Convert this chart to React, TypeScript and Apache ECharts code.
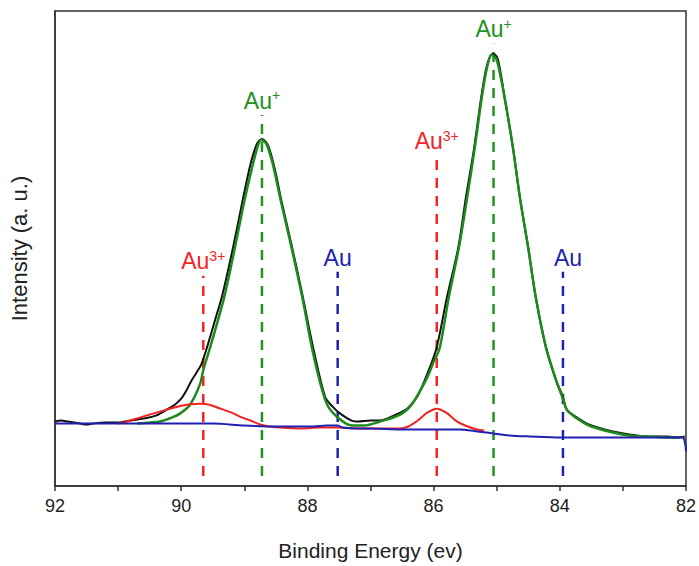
import React, { useEffect, useRef } from "react";
import * as echarts from "echarts";

// Binding energy (eV) / intensity (a.u.) pairs
const rawData: number[][] = [
  [92.0, 65], [91.9, 66], [91.8, 65], [91.6, 63], [91.5, 62], [91.4, 63], [91.2, 64], [91.0, 64],
  [90.8, 66], [90.6, 68], [90.4, 71], [90.23, 77], [90.1, 82], [90.0, 88], [89.92, 96], [89.84, 106],
  [89.76, 114], [89.68, 123], [89.59, 140], [89.46, 168], [89.35, 192], [89.18, 240], [89.02, 290],
  [88.9, 325], [88.8, 345], [88.72, 350], [88.62, 343], [88.5, 315], [88.42, 290], [88.24, 240],
  [88.07, 190], [87.91, 140], [87.72, 90], [87.6, 80], [87.48, 73], [87.3, 66], [87.2, 65], [87.0, 66],
  [86.85, 66], [86.6, 72], [86.42, 78], [86.26, 90], [86.1, 113], [85.95, 140], [85.79, 190],
  [85.61, 240], [85.49, 290], [85.36, 340], [85.25, 390], [85.17, 420], [85.1, 434], [85.05, 436],
  [84.98, 430], [84.87, 390], [84.74, 340], [84.63, 290], [84.5, 240], [84.38, 190], [84.22, 140],
  [84.05, 105], [83.95, 90], [83.89, 77], [83.75, 70], [83.57, 63], [83.4, 59], [83.16, 55],
  [82.9, 52], [82.62, 50], [82.3, 50], [82.1, 49], [82.02, 50],
];

const auPlusFit: number[][] = [
  [90.7, 63], [90.5, 64], [90.34, 65], [90.15, 69], [90.02, 73], [89.86, 82], [89.7, 103], [89.65, 117],
  [89.54, 140], [89.32, 190], [89.15, 240], [88.99, 290], [88.8, 340], [88.73, 349], [88.65, 345],
  [88.55, 325], [88.43, 290], [88.25, 240], [88.08, 190], [87.93, 140], [87.78, 100], [87.67, 80],
  [87.48, 67], [87.3, 61], [87.1, 61], [86.85, 65], [86.53, 72], [86.35, 82], [86.12, 107], [86.0, 125],
  [85.9, 140], [85.76, 190], [85.6, 240], [85.47, 290], [85.35, 340], [85.24, 390], [85.16, 420],
  [85.08, 435], [85.0, 430], [84.87, 390], [84.74, 340], [84.63, 290], [84.5, 240], [84.38, 190],
  [84.22, 140], [84.05, 105], [83.95, 88], [83.89, 77], [83.75, 69], [83.57, 62], [83.4, 58],
  [83.16, 54], [82.9, 51], [82.62, 50], [82.3, 49], [82.1, 49],
];

const au3PlusFit: number[][] = [
  [91.0, 63], [90.9, 64], [90.76, 67], [90.5, 72], [90.23, 77], [90.0, 81], [89.85, 82.5], [89.7, 83],
  [89.55, 82], [89.38, 78], [89.2, 74], [89.07, 70], [88.9, 66], [88.75, 62], [88.6, 60], [88.43, 59],
  [88.1, 58], [87.8, 59], [87.5, 59], [87.2, 58], [86.9, 58], [86.6, 58], [86.53, 58], [86.4, 60],
  [86.25, 66], [86.1, 74], [85.95, 78], [85.8, 74], [85.65, 66], [85.5, 61], [85.31, 57], [85.2, 56],
];

const baseline: number[][] = [
  [92.0, 63], [91.5, 63], [91.0, 63], [90.5, 63], [90.0, 63], [89.5, 63], [89.0, 61], [88.5, 60],
  [88.2, 60], [87.9, 60], [87.7, 61], [87.52, 61], [87.45, 59], [87.2, 58], [87.0, 58], [86.5, 57],
  [86.0, 57], [85.6, 57], [85.3, 55], [85.06, 53], [84.8, 51], [84.47, 50], [84.0, 49], [83.5, 49],
  [83.0, 49], [82.5, 49], [82.06, 49], [82.0, 35],
];

// Peak position markers: energy, top of dashed line, label kind
const markerEnergies = [89.65, 88.72, 87.52, 85.95, 85.05, 83.95];
const markerTops = [212, 374, 216, 333, 446, 216];
const markerKinds = ["Au3+", "Au+", "Au", "Au3+", "Au+", "Au"];
const markerBottom = 10;

const xTicks = [92, 90, 88, 86, 84, 82];

const FONT = "'Liberation Sans', Arial, sans-serif";
const kindColor: Record<string, string> = {
  "Au3+": "#f42424",
  "Au+": "#229022",
  Au: "#2222b0",
};

export default function App() {
  const ref = useRef<HTMLDivElement>(null);
  useEffect(() => {
    if (!ref.current) return;
    const chart = echarts.init(ref.current, undefined, { renderer: "svg" });

    const markerSeries = markerEnergies.map((e, i) => {
      const kind = markerKinds[i];
      const color = kindColor[kind];
      const fmt =
        kind === "Au3+" ? "{a|Au}{s|3+}" : kind === "Au+" ? "{a|Au}{s|+}" : "{a|Au}";
      return {
        type: "line",
        data: [
          [e, markerBottom],
          {
            value: [e, markerTops[i]],
            label: {
              show: true,
              position: "top",
              distance: 2,
              offset: i === 5 ? [5, 0] : [0, 0],
              formatter: fmt,
              rich: {
                a: { fontSize: 23, color, fontFamily: FONT, lineHeight: 24 },
                s: { fontSize: 14, color, fontFamily: FONT, padding: [0, 0, 11, 0] },
              },
            },
          },
        ],
        symbol: "circle",
        symbolSize: 0,
        showSymbol: true,
        lineStyle: { color, width: 2.5, type: [10, 8] },
        itemStyle: { color },
        z: 1,
        silent: true,
      };
    });

    chart.setOption({
      animation: false,
      backgroundColor: "#ffffff",
      grid: {
        left: 55,
        right: 13,
        top: 11,
        bottom: 76,
        show: true,
        borderColor: "#333",
        borderWidth: 1.5,
      },
      xAxis: {
        type: "value",
        min: 82,
        max: 92,
        interval: 1,
        inverse: true,
        name: "Binding Energy (ev)",
        nameLocation: "middle",
        nameGap: 54,
        nameTextStyle: { fontSize: 21, color: "#222", fontFamily: FONT },
        axisLine: { show: true, onZero: false, lineStyle: { color: "#333", width: 1.5 } },
        axisTick: { show: true, inside: false, length: 5, lineStyle: { color: "#333", width: 1.5 } },
        axisLabel: {
          fontSize: 18,
          color: "#222",
          fontFamily: FONT,
          margin: 11,
          formatter: (v: number) => (xTicks.indexOf(Math.round(v)) >= 0 && Math.abs(v - Math.round(v)) < 1e-6 ? String(Math.round(v)) : ""),
        },
        splitLine: { show: false },
      },
      yAxis: {
        type: "value",
        min: 0,
        max: 479,
        name: "Intensity (a. u.)",
        nameLocation: "middle",
        nameGap: 25,
        nameTextStyle: { fontSize: 22, color: "#222", fontFamily: FONT },
        axisLine: { show: true, lineStyle: { color: "#333", width: 1.5 } },
        axisTick: { show: false },
        axisLabel: { show: false },
        splitLine: { show: false },
      },
      series: [
        ...markerSeries,
        {
          type: "line",
          data: rawData,
          symbol: "none",
          smooth: 0.3,
          lineStyle: { color: "#111", width: 2 },
          z: 2,
        },
        {
          type: "line",
          data: auPlusFit,
          symbol: "none",
          smooth: 0.3,
          lineStyle: { color: "#1e8a1e", width: 2.5 },
          z: 3,
        },
        {
          type: "line",
          data: au3PlusFit,
          symbol: "none",
          smooth: 0.3,
          lineStyle: { color: "#f42020", width: 2 },
          z: 4,
        },
        {
          type: "line",
          data: baseline,
          symbol: "none",
          smooth: 0.3,
          lineStyle: { color: "#2020b0", width: 2 },
          z: 5,
        },
      ],
    });
    return () => chart.dispose();
  }, []);
  return (
    <div
      ref={ref}
      style={{ position: "absolute", left: 0, top: 0, width: 699, height: 566 }}
    />
  );
}
